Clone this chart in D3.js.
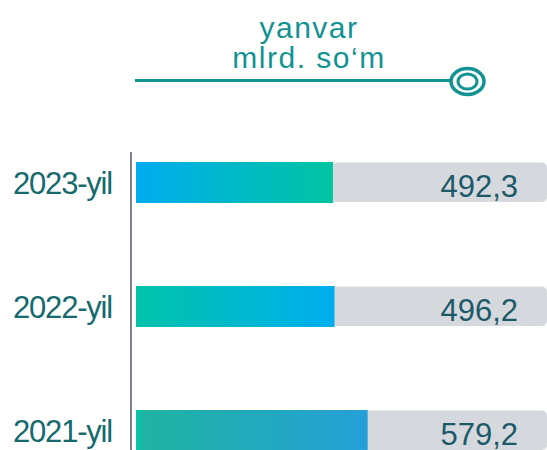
<!DOCTYPE html>
<html>
<head>
<meta charset="utf-8">
<script src="https://cdn.jsdelivr.net/npm/d3@7"></script>
<style>
  html, body { margin: 0; padding: 0; background: #ffffff; }
  svg { display: block; font-family: "Liberation Sans", Arial, sans-serif; }
</style>
</head>
<body>
<svg id="chart" width="547" height="450"></svg>
<script>
// Monthly figures (January), billion so'm
const years = ["2023-yil", "2022-yil", "2021-yil"];
const values = [492.3, 496.2, 579.2];
const valueLabels = ["492,3", "496,2", "579,2"];
const titleLines = ["yanvar", "mlrd. so\u2018m"];
// gradient colour stops for each year's bar
const gradientStops = [
  [["0%", "#00acf0"], ["100%", "#00c4a0"]],
  [["0%", "#00c3a8"], ["100%", "#00aef0"]],
  [["0%", "#05c6a8"], ["4%", "#20b2a2"], ["100%", "#24a0d8"]]
];

const svg = d3.select("#chart");
const W = 547;

const y = d3.scaleBand().domain(years).range([162, 451]).paddingInner(83 / 124).paddingOuter(0);
const x = d3.scaleLinear().domain([0, 600]).range([136, 376]);

// header: caption, rule and ring marker
const teal = "#119393";
svg.selectAll("text.title").data(titleLines).join("text")
  .attr("class", "title")
  .attr("x", 309)
  .attr("y", (d, i) => 38 + i * 30)
  .attr("text-anchor", "middle")
  .attr("font-size", 30)
  .attr("letter-spacing", 1.5)
  .attr("fill", teal)
  .text(d => d);

svg.append("line")
  .attr("x1", 135).attr("x2", 451).attr("y1", 80.5).attr("y2", 80.5)
  .attr("stroke", teal).attr("stroke-width", 3);
svg.append("ellipse")
  .attr("cx", 467.5).attr("cy", 81.5).attr("rx", 16.5).attr("ry", 13)
  .attr("fill", "none").attr("stroke", teal).attr("stroke-width", 3.5);
svg.append("ellipse")
  .attr("cx", 467.5).attr("cy", 81.5).attr("rx", 9.5).attr("ry", 7.5)
  .attr("fill", "none").attr("stroke", teal).attr("stroke-width", 3);

// gradients
const defs = svg.append("defs");
gradientStops.forEach((stops, i) => {
  const g = defs.append("linearGradient")
    .attr("id", "grad" + i)
    .attr("x1", "0%").attr("x2", "100%").attr("y1", "0%").attr("y2", "0%");
  stops.forEach(s => g.append("stop").attr("offset", s[0]).attr("stop-color", s[1]));
});

const rows = svg.selectAll("g.row").data(years).join("g").attr("class", "row");

// grey track
rows.append("rect")
  .attr("x", x(0))
  .attr("y", d => y(d) + 0.5)
  .attr("width", W - x(0))
  .attr("height", y.bandwidth() - 1.5)
  .attr("rx", 5)
  .attr("fill", "#d5d9dd");

// value bar
rows.append("rect")
  .attr("x", x(0))
  .attr("y", d => y(d))
  .attr("width", (d, i) => x(values[i]) - x(0))
  .attr("height", y.bandwidth())
  .attr("fill", (d, i) => `url(#grad${i})`);

// value labels
rows.append("text")
  .attr("x", 518)
  .attr("y", d => y(d) + 35)
  .attr("text-anchor", "end")
  .attr("font-size", 31)
  .attr("fill", "#1d5a69")
  .text((d, i) => valueLabels[i]);

// category labels
rows.append("text")
  .attr("x", 112)
  .attr("y", d => y(d) + y.bandwidth() / 2 + 11)
  .attr("text-anchor", "end")
  .attr("font-size", 31)
  .attr("letter-spacing", -1.2)
  .attr("fill", "#146a6e")
  .text(d => d);

// vertical axis line
svg.append("line")
  .attr("x1", 131).attr("x2", 131).attr("y1", 152).attr("y2", 450)
  .attr("stroke", "#80808f").attr("stroke-width", 2);
</script>
</body>
</html>
